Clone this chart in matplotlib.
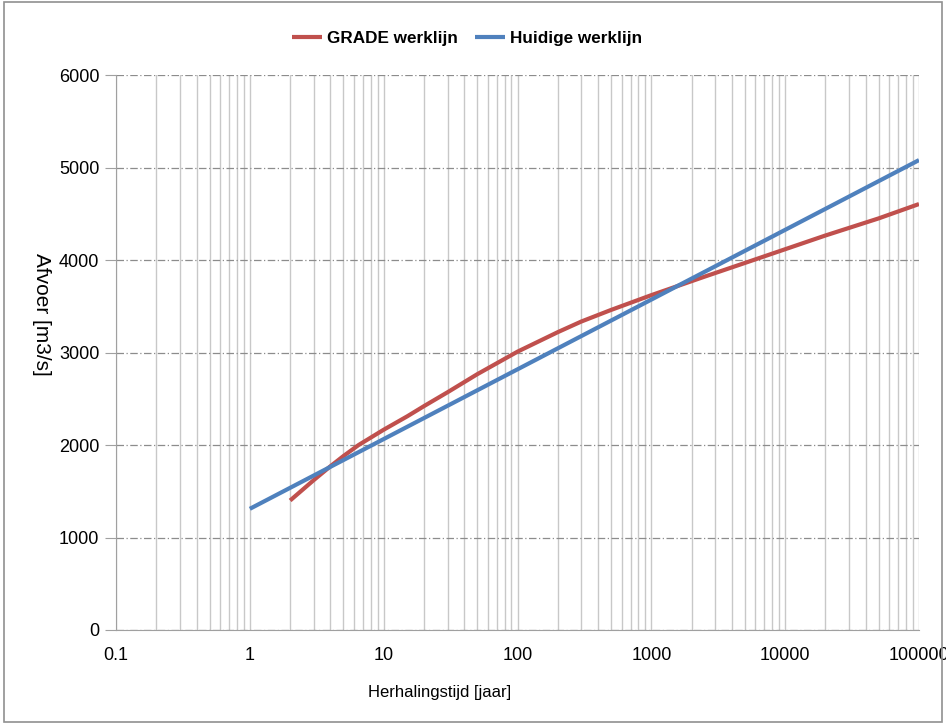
import matplotlib.pyplot as plt
from matplotlib.ticker import FixedLocator, LogLocator, NullFormatter
from matplotlib.patches import Rectangle

# herhalingstijd [jaar] en afvoer [m3/s]
grade_T = [2, 3, 4, 5, 6.5, 10, 15, 20, 30, 50, 100, 200, 300, 500, 1000, 2500, 7000, 20000, 50000, 100000]
grade_Q = [1400, 1620, 1770, 1880, 2000, 2165, 2310, 2420, 2570, 2765, 3009, 3220, 3335, 3460, 3620, 3820, 4040, 4265, 4450, 4605]

huidig_T = [1, 100000]
huidig_Q = [1310, 5080]

xticks = [0.1, 1, 10, 100, 1000, 10000, 100000]
xticklabels = ["0.1", "1", "10", "100", "1000", "10000", "100000"]
yticks = [0, 1000, 2000, 3000, 4000, 5000, 6000]

plt.rcParams['font.family'] = ['Liberation Sans', 'DejaVu Sans']

fig = plt.figure(figsize=(9.46, 7.24), dpi=100)
ax = fig.add_axes([116/946, 1 - 630/724, (919-116)/946, (630-75)/724])

ax.plot(grade_T, grade_Q, color='#C0504D', lw=3, label="GRADE werklijn",
        solid_capstyle='butt', solid_joinstyle='round')
ax.plot(huidig_T, huidig_Q, color='#4F81BD', lw=3, label="Huidige werklijn", solid_capstyle='butt')

ax.set_xscale('log')
ax.set_xlim(0.1, 100000)
ax.set_ylim(0, 6000)
ax.xaxis.set_major_locator(FixedLocator(xticks))
ax.set_xticklabels(xticklabels)
ax.xaxis.set_minor_locator(LogLocator(base=10, subs=range(2, 10)))
ax.xaxis.set_minor_formatter(NullFormatter())
ax.set_yticks(yticks)

ax.grid(True, which='both', axis='x', color='#c8c8c8', lw=1, ls='-')
ax.grid(True, which='major', axis='y', color='#8c8c8c', lw=0.9, ls=(0, (6, 2, 1, 2)))
ax.set_axisbelow(True)

for s in ['top', 'right']:
    ax.spines[s].set_visible(False)
for s in ['left', 'bottom']:
    ax.spines[s].set_color('#a0a0a0')
ax.tick_params(axis='y', which='major', length=8, color='#a0a0a0', pad=4)
ax.tick_params(axis='x', which='major', length=0, pad=12)
ax.tick_params(axis='x', which='minor', length=0)
for lab in ax.get_xticklabels() + ax.get_yticklabels():
    lab.set_fontsize(13)

fig.text(41/946, 1 - 314/724, "Afvoer [m3/s]", rotation=270, ha='center', va='center', fontsize=15)
fig.text(440/946, 1 - 693/724, "Herhalingstijd [jaar]", ha='center', va='center', fontsize=12)

leg = fig.legend(loc='center', bbox_to_anchor=(467/946, 1 - 38/724), ncol=2, frameon=False,
                 prop={'weight': 'bold', 'size': 12.3},
                 handlelength=1.75, columnspacing=1.0, handletextpad=0.3)

fig.patches.append(Rectangle((4/946, 2/724), 938/946, 720/724, transform=fig.transFigure,
                             fill=False, edgecolor='#909090', lw=1.2))

fig.savefig("out.png", dpi=100)
